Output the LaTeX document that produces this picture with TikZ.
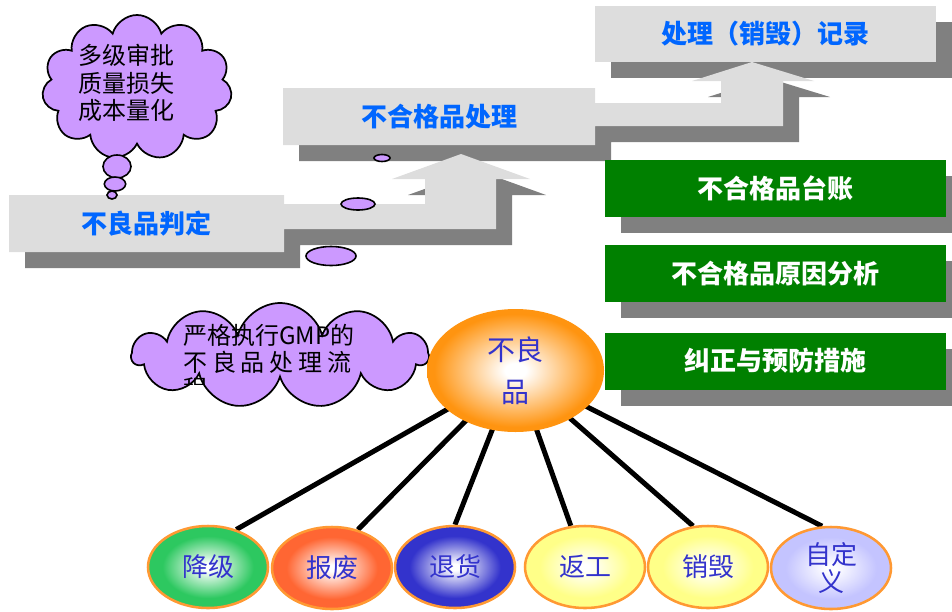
\documentclass[tikz,border=0pt]{standalone}
\usepackage{fontspec}
\setmainfont{Noto Sans CJK SC}
\usetikzlibrary{shapes.symbols,shapes.geometric,shadows,backgrounds}
\definecolor{lgray}{HTML}{DDDDDD}
\definecolor{dgray}{HTML}{808080}
\definecolor{tblue}{HTML}{0066FF}
\definecolor{gboxc}{HTML}{008000}
\definecolor{purp}{HTML}{CC99FF}
\definecolor{ringc}{HTML}{FF9933}
\definecolor{lblue}{HTML}{3333CC}
\definecolor{bigorange}{HTML}{FF9410}
\definecolor{cgreen}{HTML}{2DC860}
\definecolor{cred}{HTML}{FF6633}
\definecolor{cblue}{HTML}{3333CC}
\definecolor{cyellow}{HTML}{FFFF88}
\definecolor{clav}{HTML}{C4C4FF}
\colorlet{balloutc}{green}
\pgfdeclareradialshading[balloutc]{myball}{\pgfpointorigin}{color(0bp)=(white); color(2bp)=(white); color(19bp)=(balloutc); color(50bp)=(balloutc)}
\pgfdeclareradialshading{bigball}{\pgfpointorigin}{color(0bp)=(white); color(3bp)=(white); color(23bp)=(bigorange); color(50bp)=(bigorange)}
\newcommand\setballcolor[1]{\colorlet{balloutc}{#1}}
\begin{document}
\begin{tikzpicture}[x=0.75pt,y=-0.75pt,
  steptext/.style={font=\bfseries\fontsize{19.5}{22}\selectfont, text=tblue, inner sep=0pt},
  gbox/.style={fill=gboxc, minimum width=255.75pt, minimum height=42.75pt, inner sep=0pt,
    font=\bfseries\fontsize{19.5}{22}\selectfont, text=white,
    drop shadow={shadow xshift=12pt, shadow yshift=-12pt, fill=dgray, opacity=1}},
  cloudc/.style={cloud, cloud puffs=11, cloud ignores aspect, draw=black, line width=1.3pt, fill=purp, inner sep=0pt},
  bubble/.style={ellipse, draw=black, line width=1.2pt, fill=purp, inner sep=0pt},
  cloudtext/.style={font=\fontsize{18}{20.6}\selectfont, text=black, inner sep=0pt, align=left},
  ballnode/.style={ellipse, draw=ringc, line width=1.9pt, minimum width=90pt, minimum height=61.5pt,
    inner sep=0pt, text=lblue, font=\fontsize{19.5}{20}\selectfont, align=center,
    /utils/exec=\setballcolor{#1}, shading=myball},
  conn/.style={line width=3.75pt, black}
]
\useasboundingbox (0,0) rectangle (952,611);
\clip (0,0) rectangle (952,611);
% staircase shadows
\fill[dgray, shift={(16,16)}] (9,195) -- (284,195) -- (284,204) -- (425,204) -- (425,179) -- (392,179) -- (461,154) -- (530,179) -- (496,179) -- (496,229) -- (284,229) -- (284,252) -- (9,252) -- cycle;
\fill[dgray, shift={(16,16)}] (283,88) -- (595,88) -- (595,103) -- (721,103) -- (721,81) -- (692,81) -- (752,62) -- (814,81) -- (783,81) -- (783,126) -- (595,126) -- (595,145) -- (283,145) -- cycle;
\fill[dgray, shift={(16,16)}] (595,6) rectangle (936,62);
% staircase
\fill[lgray] (9,195) -- (284,195) -- (284,204) -- (425,204) -- (425,179) -- (392,179) -- (461,154) -- (530,179) -- (496,179) -- (496,229) -- (284,229) -- (284,252) -- (9,252) -- cycle;
\fill[lgray] (283,88) -- (595,88) -- (595,103) -- (721,103) -- (721,81) -- (692,81) -- (752,62) -- (814,81) -- (783,81) -- (783,126) -- (595,126) -- (595,145) -- (283,145) -- cycle;
\fill[lgray] (595,6) rectangle (936,62);
\node[steptext] (t1) at (146.5,223.5) {不良品判定};
\node[steptext] (t2) at (439,116.5) {不合格品处理};
\node[steptext] (t3) at (765.5,34) {处理（销毁）记录};
% green boxes
\node[gbox] (g1) at (775.5,188.5) {不合格品台账};
\node[gbox] (g2) at (775.5,273.5) {不合格品原因分析};
\node[gbox] (g3) at (775.5,361) {纠正与预防措施};
% cloud 1
\node[cloudc, minimum width=142.5pt, minimum height=108.75pt] (cl1) at (137,87.5) {};
\node[cloudtext, anchor=west] (cl1t) at (78,83) {多级审批\\质量损失\\成本量化};
\node[bubble, minimum width=21pt, minimum height=17.25pt] (b1) at (117,166.5) {};
\node[bubble, minimum width=16pt, minimum height=10.5pt] (b2) at (115,184) {};
\node[bubble, minimum width=7.5pt, minimum height=6pt] (b3) at (112,195) {};
% bubbles on staircase
\node[bubble, minimum width=12pt, minimum height=5.25pt] (b4) at (382,158) {};
\node[bubble, minimum width=25.5pt, minimum height=9pt] (b5) at (358,204) {};
\node[bubble, minimum width=37.5pt, minimum height=14.25pt] (b6) at (331,256) {};
% cloud 2
\node[cloudc, minimum width=222pt, minimum height=78.75pt] (cl2) at (280,355.5) {};
\node[cloudtext, anchor=west] (cl2a) at (183,335) {严格执行GMP的};
\node[cloudtext, anchor=west] (cl2b) at (183,362) {\addfontfeature{LetterSpace=20}不良品处理流};
\begin{scope}
\clip (170,370) rectangle (420,384);
\node[cloudtext, anchor=west] (cl2c) at (183,389) {程};
\end{scope}
% big ellipse
\node[ellipse, minimum width=132.75pt, minimum height=92.25pt, inner sep=0pt, shading=bigball,
  text=lblue, font=\fontsize{21}{31.5}\selectfont, align=center] (bl) at (515.5,370.5) {不良\\品};
% circles
\node[ballnode=cgreen] (c1) at (208,567) {降级};
\node[ballnode=cred] (c2) at (332,568) {报废};
\node[ballnode=cblue] (c3) at (455,567) {退货};
\node[ballnode=cyellow] (c4) at (585,567) {返工};
\node[ballnode=cyellow] (c5) at (708,567) {销毁};
\node[ballnode=clav] (c6) at (831,568) {自定\\义};
\begin{scope}[on background layer]
\draw[conn] (bl.center) -- (c1.53);
\draw[conn] (bl.center) -- (c2.56);
\draw[conn] (bl.center) -- (c3.90);
\draw[conn] (bl.center) -- (c4.109);
\draw[conn] (bl.center) -- (c5.110);
\draw[conn] (bl.center) -- (c6.102);
\end{scope}
\end{tikzpicture}
\end{document}
